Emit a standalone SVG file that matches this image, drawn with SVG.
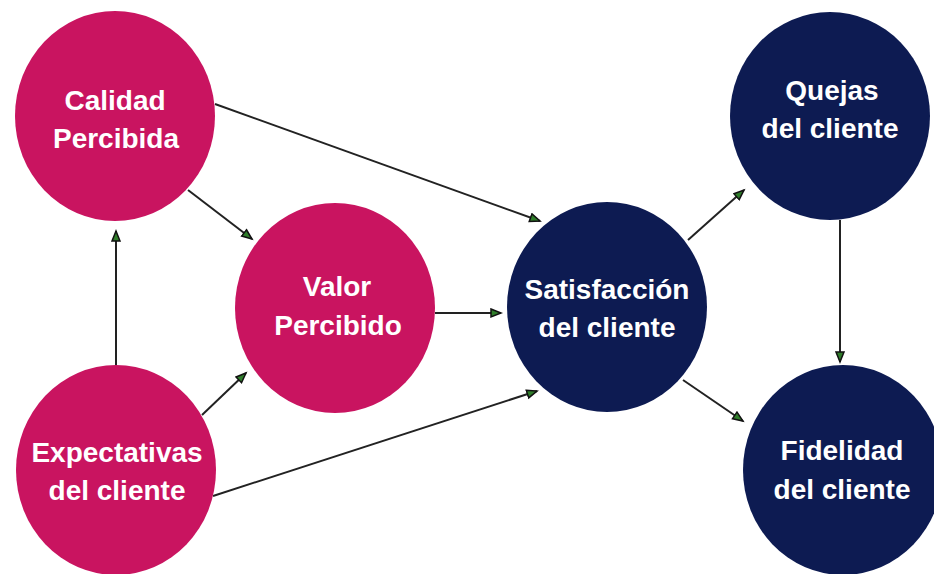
<svg xmlns="http://www.w3.org/2000/svg" width="934" height="574" viewBox="0 0 934 574">
<style>
.pink{fill:#C91460}
.navy{fill:#0D1B52}
.lbl{font-family:"Liberation Sans",Arial,sans-serif;font-weight:bold;font-size:28px;fill:#fff;text-anchor:middle}
.edge{stroke:#222;stroke-width:2;fill:none;marker-end:url(#ah)}
</style>
<defs>
<marker id="ah" markerUnits="userSpaceOnUse" markerWidth="14" markerHeight="12" refX="11" refY="5" orient="auto">
<path d="M1,1 L11,5 L1,9 Z" fill="#2F7D2A" stroke="#111" stroke-width="1.5"/>
</marker>
</defs>
<rect width="934" height="574" fill="#fff"/>
<g id="connectors">
<line class="edge" x1="215" y1="104" x2="540" y2="221"/>
<line class="edge" x1="188" y1="190" x2="252" y2="239"/>
<line class="edge" x1="116" y1="365" x2="116" y2="231"/>
<line class="edge" x1="202" y1="415" x2="246" y2="373"/>
<line class="edge" x1="213" y1="496" x2="537" y2="391"/>
<line class="edge" x1="435" y1="313" x2="501" y2="313"/>
<line class="edge" x1="688" y1="240" x2="744" y2="190"/>
<line class="edge" x1="683" y1="380" x2="743" y2="421"/>
<line class="edge" x1="840" y1="220" x2="840" y2="362"/>
</g>
<g id="calidad">
<ellipse class="pink" cx="115" cy="116" rx="100" ry="105"/>
<text class="lbl" x="115" y="110">Calidad</text>
<text class="lbl" x="116" y="148">Percibida</text>
</g>
<g id="valor">
<ellipse class="pink" cx="335" cy="308" rx="100" ry="105"/>
<text class="lbl" x="337" y="296">Valor</text>
<text class="lbl" x="338" y="335">Percibido</text>
</g>
<g id="expectativas">
<ellipse class="pink" cx="116" cy="470" rx="100" ry="105"/>
<text class="lbl" x="117" y="462">Expectativas</text>
<text class="lbl" x="117" y="500">del cliente</text>
</g>
<g id="satisfaccion">
<ellipse class="navy" cx="607" cy="307" rx="100" ry="105"/>
<text class="lbl" x="607" y="299">Satisfacción</text>
<text class="lbl" x="607" y="337">del cliente</text>
</g>
<g id="quejas">
<ellipse class="navy" cx="830" cy="116" rx="100" ry="104"/>
<text class="lbl" x="832" y="100">Quejas</text>
<text class="lbl" x="830" y="138">del cliente</text>
</g>
<g id="fidelidad">
<ellipse class="navy" cx="843" cy="470" rx="100" ry="105"/>
<text class="lbl" x="842" y="460">Fidelidad</text>
<text class="lbl" x="842" y="499">del cliente</text>
</g>
</svg>
